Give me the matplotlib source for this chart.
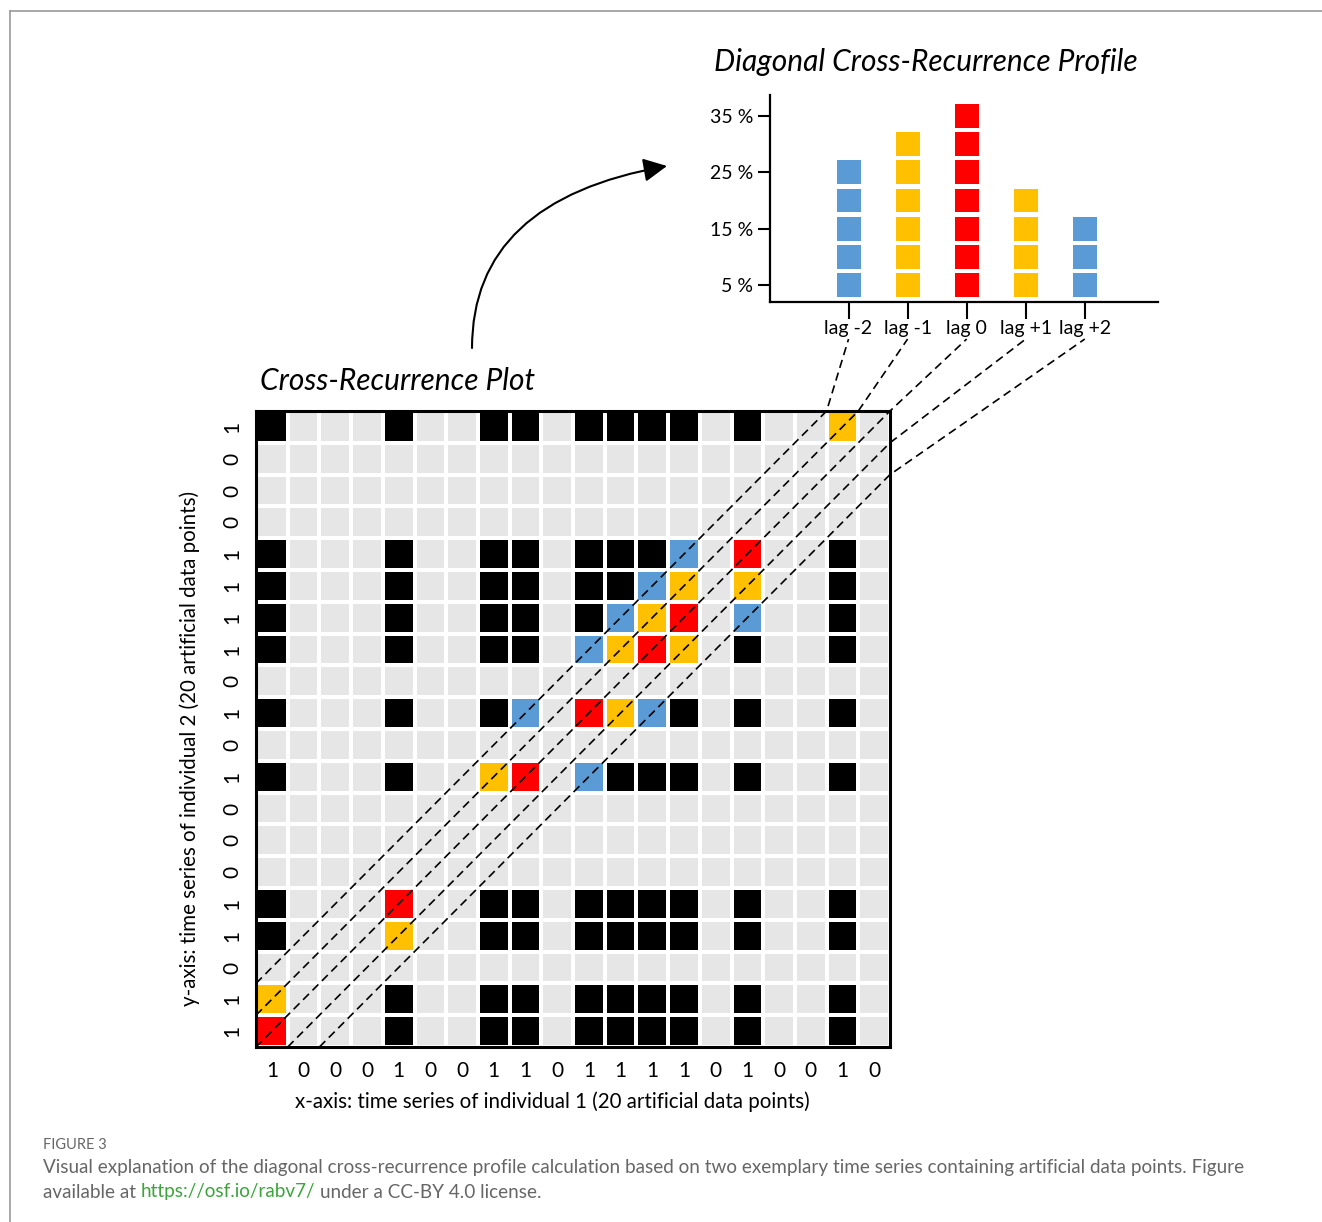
import numpy as np
import matplotlib
matplotlib.use('Agg')
import matplotlib.pyplot as plt
from matplotlib.colors import ListedColormap
from matplotlib.lines import Line2D
from matplotlib.patches import FancyArrowPatch

W, H = 1322, 1222

# time series (x left->right, y bottom->top)
x_series = [1, 0, 0, 0, 1, 0, 0, 1, 1, 0, 1, 1, 1, 1, 0, 1, 0, 0, 1, 0]
y_series = [1, 1, 0, 1, 1, 0, 0, 0, 1, 0, 1, 0, 1, 1, 1, 1, 0, 0, 0, 1]

lags = [-2, -1, 0, 1, 2]
lag_labels = ['lag -2', 'lag -1', 'lag 0', 'lag +1', 'lag +2']
profile_pct = [25, 30, 35, 20, 15]
pct_ticks = [5, 15, 25, 35]
pct_labels = ['5 %', '15 %', '25 %', '35 %']

GRAY = '#E7E6E6'
BLUE = '#5B9BD5'
GOLD = '#FFC000'
RED = '#FF0000'
lag_colors = [BLUE, GOLD, RED, GOLD, BLUE]

plt.rcParams['font.family'] = ['Lato', 'DejaVu Sans']


def fx(px):
    return px / W


def fy(py):
    return 1 - py / H


fig = plt.figure(figsize=(W / 100, H / 100), dpi=100)

# frame lines of the figure panel
fig.add_artist(Line2D([fx(10), fx(10)], [0, fy(11)], color='#999999', lw=1.2))
fig.add_artist(Line2D([fx(10), 1], [fy(11), fy(11)], color='#999999', lw=1.2))

# ---- cross-recurrence plot ----
xs = np.array(x_series)
ys = np.array(y_series)
n = len(xs)
cat = np.zeros((n, n), dtype=int)
for j in range(n):
    for i in range(n):
        if xs[i] == 1 and ys[j] == 1:
            lag = abs(i - j)
            cat[j, i] = 2 + lag if lag <= 2 else 1
cmap = ListedColormap([GRAY, 'black', RED, GOLD, BLUE])

ax = fig.add_axes([fx(256), fy(1047), (890 - 256) / W, (1047 - 411) / H])
ax.pcolormesh(np.arange(n + 1), np.arange(n + 1), cat, cmap=cmap, vmin=-0.5, vmax=4.5,
              edgecolors='white', linewidth=1.7)
ax.set_xlim(0, n)
ax.set_ylim(0, n)
ax.set_xticks(np.arange(n) + 0.5)
ax.set_xticklabels([str(v) for v in x_series])
ax.set_yticks(np.arange(n) + 0.5)
ax.set_yticklabels([str(v) for v in y_series])
ax.tick_params(axis='x', length=0, labelsize=15, pad=10)
ax.tick_params(axis='y', length=0, labelsize=15, pad=10, labelrotation=90)
for lbl in ax.get_yticklabels():
    lbl.set_va('center')
for s in ax.spines.values():
    s.set_linewidth(2.2)

# ---- diagonal cross-recurrence profile ----
pax = fig.add_axes([fx(770), fy(302), (1158 - 770) / W, (302 - 95) / H])
sq = 4.26
for k, (pct, c) in enumerate(zip(profile_pct, lag_colors)):
    m = pct // 5
    bottoms = [5 * (q + 1) - sq / 2 for q in range(m)]
    pax.bar([k] * m, [sq] * m, bottom=bottoms, width=0.406, color=c)
pax.set_xlim(-1.33, 5.24)
pax.set_ylim(1.98, 38.73)
pax.set_yticks(pct_ticks)
pax.set_yticklabels(pct_labels)
pax.set_xticks(range(len(lags)))
pax.set_xticklabels(lag_labels)
pax.spines['top'].set_visible(False)
pax.spines['right'].set_visible(False)
pax.spines['left'].set_linewidth(1.6)
pax.spines['bottom'].set_linewidth(1.6)
pax.tick_params(axis='y', length=9, width=1.5, pad=3, labelsize=14)
pax.tick_params(axis='x', length=12, width=1.5, pad=1, labelsize=14)

# dashed connectors along the diagonals up to the lag labels
inv = fig.transFigure.inverted()
for k, L in enumerate(lags):
    if L <= 0:
        p0, p1 = (0, -L), (n + L, n)
    else:
        p0, p1 = (L, 0), (n, n - L)
    a = ax.transData.transform([p0, p1])
    b = pax.transData.transform([(k, -4.6)])
    pts = inv.transform(np.vstack([a, b]))
    fig.add_artist(Line2D(pts[:, 0], pts[:, 1], color='black', lw=1.2,
                          ls=(0, (5, 3))))

# curved arrow
arr = FancyArrowPatch((fx(472), fy(348)), (fx(667), fy(166)),
                      transform=fig.transFigure,
                      connectionstyle='angle3,angleA=90,angleB=10',
                      arrowstyle='-|>,head_length=0.8,head_width=0.4',
                      mutation_scale=18, lw=1.5, color='black',
                      shrinkA=0, shrinkB=0)
fig.add_artist(arr)

# titles and axis labels
fig.text(fx(260), fy(381), 'Cross-Recurrence Plot', ha='left', va='center',
         style='italic', fontsize=21.5)
fig.text(fx(714), fy(62), 'Diagonal Cross-Recurrence Profile', ha='left', va='center',
         style='italic', fontsize=21.5)
fig.text(fx(552), fy(1102), 'x-axis: time series of individual 1 (20 artificial data points)',
         ha='center', va='center', fontsize=14.8)
fig.text(fx(190), fy(748), 'y-axis: time series of individual 2 (20 artificial data points)',
         ha='center', va='center', rotation=90, fontsize=14.8)

# caption
fig.text(fx(43), fy(1145), 'FIGURE 3', ha='left', va='center', fontsize=10.5,
         color='#666666')
cap_kw = dict(ha='left', va='center', fontsize=13.6)
fig.text(fx(43), fy(1168),
         'Visual explanation of the diagonal cross-recurrence profile calculation based on two '
         'exemplary time series containing artificial data points. Figure',
         color='#666666', **cap_kw)

renderer = fig.canvas.get_renderer()
t1 = fig.text(0, 0, 'x x', **cap_kw)
t2 = fig.text(0, 0, 'xx', **cap_kw)
space = t1.get_window_extent(renderer).width - t2.get_window_extent(renderer).width
t1.remove()
t2.remove()
xpos = 43
for piece, col in [('available at', '#666666'), ('https://osf.io/rabv7/', '#3BA53B'),
                   ('under a CC-BY 4.0 license.', '#666666')]:
    t = fig.text(fx(xpos), fy(1192), piece, color=col, **cap_kw)
    xpos = t.get_window_extent(renderer).x1 + space

fig.savefig('out.png', dpi=100)
